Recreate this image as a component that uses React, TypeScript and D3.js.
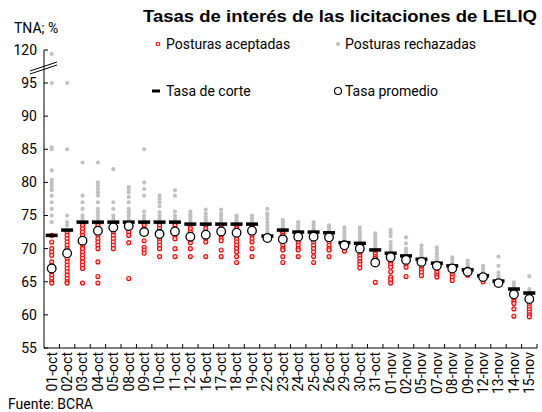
import React from 'react';
import * as d3 from 'd3';

const categories = [
  '01-oct', '02-oct', '03-oct', '04-oct', '05-oct', '08-oct', '09-oct', '10-oct',
  '11-oct', '12-oct', '16-oct', '17-oct', '18-oct', '19-oct', '22-oct', '23-oct',
  '24-oct', '25-oct', '26-oct', '29-oct', '30-oct', '31-oct', '01-nov', '02-nov',
  '05-nov', '07-nov', '08-nov', '09-nov', '12-nov', '13-nov', '14-nov', '15-nov',
];

// tasa de corte por licitacion
const tasaCorte = [
  72, 72.8, 74, 74, 74, 74, 74, 74, 74, 73.7, 73.7, 73.7, 73.7, 73.7, 71.9, 72.8,
  72.5, 72.5, 72.4, 70.9, 70.8, 69.8, 69.3, 68.9, 68.4, 67.8, 67.4, 66.8, 65.9, 65.1, 63.9, 63.3,
];

// tasa promedio
const tasaPromedio = [
  67, 69.3, 71.2, 72.7, 73.2, 73.4, 72.5, 72.2, 72.6, 71.8, 72.1, 72.6, 72.4, 72.7, 71.6, 71.4,
  71.8, 71.8, 71.7, 70.5, 70, 67.9, 68.7, 68.3, 68, 67.4, 67, 66.5, 65.7, 64.8, 63.1, 62.4,
];

const aceptadas = [
  [72, 71, 70, 69.5, 69, 68, 67.5, 67, 66.5, 66, 65.5, 65, 64.8],
  [72.5, 72, 71.5, 71, 70.5, 70, 69, 68.5, 68, 67.5, 67, 66.5, 66, 65.5, 65, 64.8],
  [73.8, 73.5, 73, 72.5, 72, 71.5, 71, 70.5, 70, 69.5, 69, 68.5, 68, 67.5, 67, 64.8],
  [73.8, 73.5, 73, 72.5, 72, 71.5, 71, 70.5, 70, 68, 65.8, 64.8],
  [73.8, 73.5, 73, 72.5, 72, 71.5, 71, 70.5, 70],
  [73.8, 73.5, 73, 72.5, 72, 70.9, 65.5],
  [73.8, 73.5, 73, 72.5, 71.2, 70.2, 69.8, 69.3],
  [73.8, 73.5, 73, 72.5, 72, 71.5, 71, 70.5, 70, 68.8],
  [73.8, 73.5, 73, 72.5, 72, 71.5, 70, 68.8],
  [73.5, 73, 72.5, 72, 71.5, 70.9, 70, 68.8],
  [73.5, 73, 72.5, 72, 71.5, 71, 68.8],
  [73.5, 73, 72.5, 72, 71.5, 71.2, 69.8, 68.8],
  [73.5, 73, 72.5, 72, 71.5, 71, 70.5, 70, 69.5, 68.8, 67.9],
  [73.5, 73, 72.5, 72, 71.5, 71, 70, 68.8],
  [71.8, 71.5],
  [72.6, 72.3, 72, 71.5, 71, 70.5, 70, 69.8, 68.8, 67.9],
  [72.3, 72, 71.5, 71, 70.5, 70, 69.8, 68.8],
  [72.3, 72, 71.5, 71, 70.5, 70, 69.5, 68.8, 67.9],
  [72.2, 71.8, 71.5, 71, 70.5, 70, 69.8, 68.8],
  [70.8, 70.5, 70.2, 70, 69.6],
  [70.6, 70.2, 69.7, 69.3, 68.9, 68.5, 68, 67.6, 67.1],
  [69.6, 69.2, 68.8, 68.5, 64.9],
  [69.2, 69, 68.7, 68.4, 68, 67.6, 67.2, 66.5, 65.7, 65.3, 64.8],
  [68.7, 68.3, 68, 67.6, 67.2, 65.8],
  [68.2, 67.8, 67.3, 66.8, 66.4, 65.9],
  [67.2, 66.8, 66.4, 66, 65.7],
  [66.9, 66.5, 66.1, 65.7, 65.2],
  [66.6, 66.3, 66],
  [65.6, 65.3, 65],
  [64.9, 64.7],
  [63.6, 63.2, 62.8, 62.4, 62, 61.7, 60.9, 59.8],
  [63, 62.6, 62.1, 61.7, 61.2, 60.8, 60.4, 60, 59.7],
];

const rechazadas = [
  [117, 95, 85.3, 85, 81.8, 80.4, 80, 79.5, 79, 78.8, 78, 77, 76, 75, 74],
  [95, 85, 75, 74, 73.5],
  [83, 78, 77, 76, 75, 74.5],
  [83, 80, 79.5, 79, 78.5, 78, 77, 76, 75.5, 75, 74.5],
  [82, 77, 76, 75, 74.5],
  [79.3, 79, 78.5, 77.8, 77, 76, 75.5, 75, 74.5],
  [85, 80, 79, 78, 75.6, 75, 74.5, 74.2],
  [78, 77.5, 77, 76.4, 75.5, 75, 74.5],
  [78.8, 78, 75.6, 75, 74.5],
  [75.6, 75.2, 74.8, 74.5, 74.2],
  [75.9, 75.3, 74.8, 74.5, 74.2],
  [75.9, 75.3, 75, 74.5, 74.2],
  [75, 74.7, 74.3, 74],
  [75, 74.6, 74.2],
  [76, 75.3, 75, 74.5, 74, 73.5, 73, 72.5, 72.2],
  [74.3, 74, 73.6, 73.2],
  [74, 73.5, 73.2, 72.8],
  [74, 73.5, 73, 72.8],
  [73.5, 73.2, 72.8],
  [73.2, 72.8, 72.4, 72, 71.6, 71.2],
  [73.2, 72.8, 72.4, 72, 71.6, 71.2, 70.9],
  [72.3, 71.8, 71.4, 71, 70.6, 70.2],
  [72.8, 72.4, 71.9, 71, 70.5, 70, 69.6],
  [71.7, 70.8, 70, 69.6, 69.2],
  [70.5, 70, 69.6, 69.2, 68.8],
  [70.2, 69.8, 69.3, 68.8, 68.3],
  [68.7, 68.3, 67.9],
  [68.2, 67.8, 67.4],
  [67.4, 67, 66.6, 66.2],
  [68.8, 67.4, 66.4, 65.9, 65.5],
  [64.9, 64.5, 64.1],
  [65.8, 63.9, 63.6],
];

const yTicks = [55, 60, 65, 70, 75, 80, 85, 90, 95, 120];

const W = 542;
const H = 412;
const font = 'Roboto, "Noto Sans", Arial, sans-serif';

export default function App() {
  const left = 44;
  const right = 537;
  const bottom = 348;

  const x = d3.scaleBand<string>().domain(categories).range([left, right]);
  // eje con corte: 95 -> 120 comprimido en un solo intervalo
  const y = d3.scaleLinear().domain([55, 95, 120]).range([bottom, 83, 50]);

  const cx = (i: number) => (x(categories[i]) as number) + x.bandwidth() / 2;

  return (
    <svg width={W} height={H} style={{ position: 'absolute', left: 0, top: 0, background: '#fff' }} fontFamily={font}>
      <text x={340} y={22} textAnchor="middle" fontSize={17} fontWeight="bold" fill="#000"
        fontFamily='"Liberation Sans", Arial, sans-serif' textLength={394} lengthAdjust="spacingAndGlyphs">
        Tasas de interés de las licitaciones de LELIQ
      </text>
      <text x={14} y={33} fontSize={14} fill="#000">TNA; %</text>

      {/* leyenda */}
      <g fontSize={14} fill="#000">
        <circle cx={158} cy={44} r={1.8} fill="#fff" stroke="#ff0000" strokeWidth={1.1} />
        <text x={166} y={49}>Posturas aceptadas</text>
        <circle cx={338} cy={44} r={2} fill="#c0c0c0" />
        <text x={345} y={49}>Posturas rechazadas</text>
        <rect x={152} y={89.5} width={8} height={3} fill="#000" />
        <text x={166} y={96}>Tasa de corte</text>
        <circle cx={338} cy={91} r={3.5} fill="#fff" stroke="#000" strokeWidth={1.2} />
        <text x={345} y={96}>Tasa promedio</text>
      </g>

      {/* eje y */}
      <line x1={left} x2={left} y1={y(120)} y2={bottom} stroke="#000" strokeWidth={1} />
      {yTicks.map(t => (
        <g key={t}>
          <line x1={left} x2={left + 4} y1={y(t)} y2={y(t)} stroke="#000" />
          <text x={37} y={y(t)} dy="0.35em" textAnchor="end" fontSize={14} fill="#000">{t}</text>
        </g>
      ))}
      {/* marca de corte del eje */}
      <line x1={30} y1={71} x2={57} y2={62} stroke="#000" strokeWidth={1} />
      <line x1={30} y1={74} x2={57} y2={65} stroke="#000" strokeWidth={1} />

      {/* eje x */}
      <line x1={left} x2={right} y1={bottom} y2={bottom} stroke="#000" />
      {categories.map((c, i) => (
        <line key={'t' + c} x1={(x(c) as number) + x.bandwidth()} x2={(x(c) as number) + x.bandwidth()}
          y1={bottom} y2={bottom - 4} stroke="#000" />
      ))}
      {categories.map((c, i) => (
        <text key={'l' + c} transform={`translate(${cx(i)},352) rotate(-90)`} dy="0.35em"
          textAnchor="end" fontSize={14} fill="#000">{c}</text>
      ))}

      {/* posturas rechazadas */}
      {rechazadas.map((vals, i) => vals.map((v, j) => (
        <circle key={`r${i}-${j}`} cx={cx(i)} cy={y(v)} r={2.1} fill="#c0c0c0" />
      )))}
      {/* posturas aceptadas */}
      {aceptadas.map((vals, i) => vals.map((v, j) => (
        <circle key={`a${i}-${j}`} cx={cx(i)} cy={y(v)} r={2} fill="#ffd0d0" stroke="#ff0000" strokeWidth={1.1} />
      )))}
      {/* tasa de corte */}
      {tasaCorte.map((v, i) => (
        <rect key={`c${i}`} x={cx(i) - 6} y={y(v) - 1.75} width={12} height={3.5} fill="#000" />
      ))}
      {/* tasa promedio */}
      {tasaPromedio.map((v, i) => (
        <circle key={`p${i}`} cx={cx(i)} cy={y(v)} r={4.3} fill="#fff" stroke="#000" strokeWidth={1.3} />
      ))}

      <text x={8} y={409} fontSize={14} fill="#000">Fuente: BCRA</text>
    </svg>
  );
}
